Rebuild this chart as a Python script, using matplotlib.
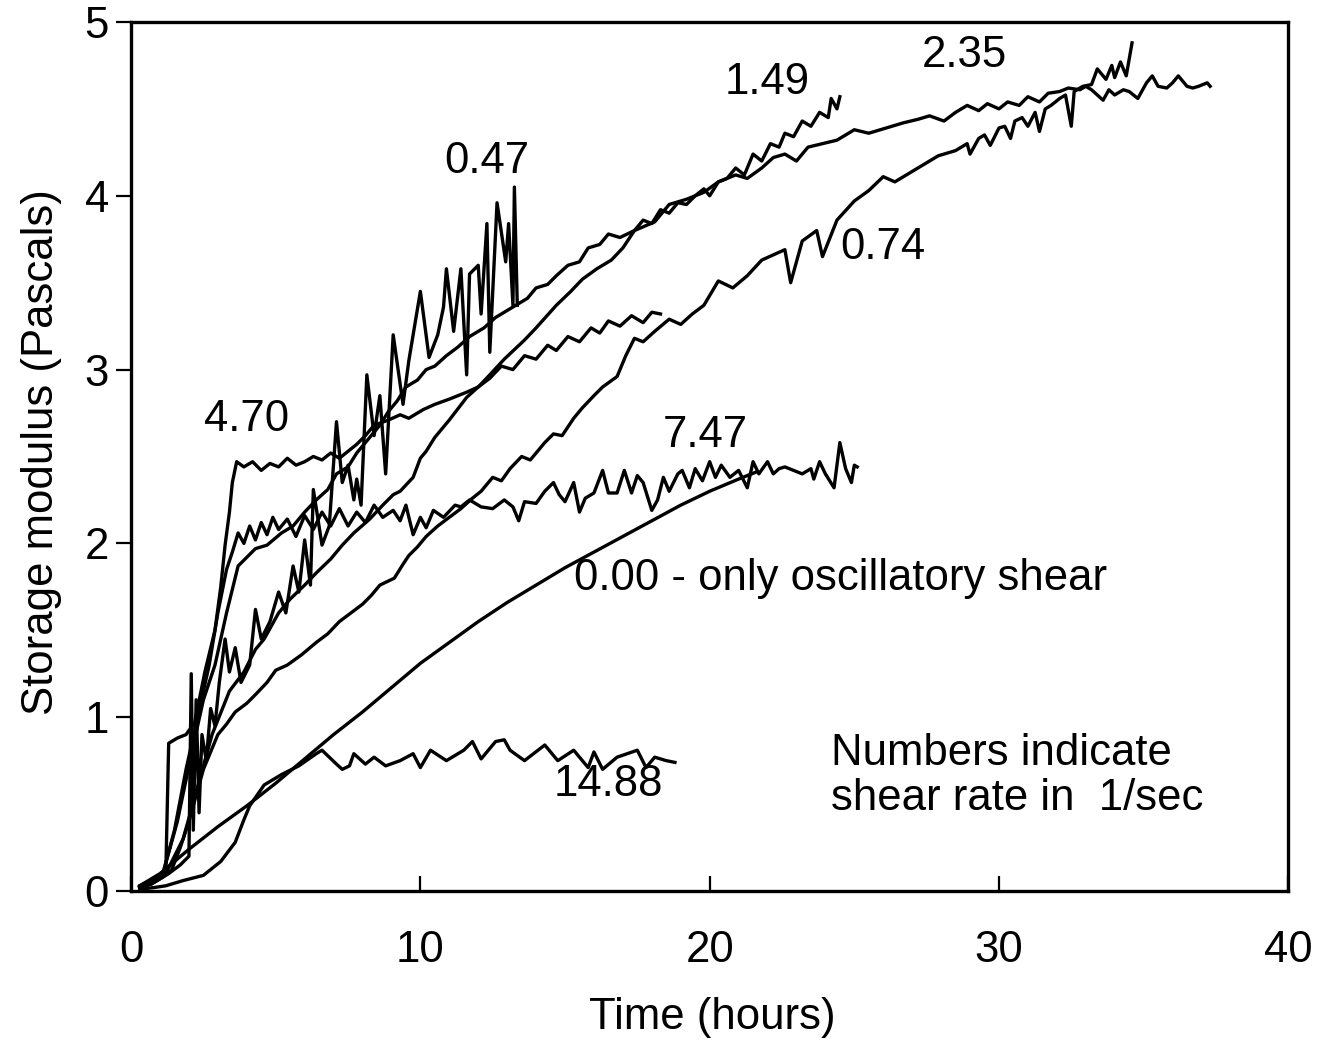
import matplotlib.pyplot as plt

plt.rcParams['font.family'] = ['Liberation Sans', 'DejaVu Sans']

# =========================
# DATA  (time in hours, storage modulus in Pa)
# =========================
# shear rate 4.70 1/s
r470 = [(0.3, 0.03), (0.8, 0.07), (1.2, 0.10), (1.3, 0.85), (1.6, 0.88), (1.9, 0.90),
        (2.2, 0.97), (2.55, 1.26), (2.9, 1.50), (3.1, 1.75), (3.25, 1.99), (3.4, 2.18),
        (3.5, 2.35), (3.65, 2.47), (3.9, 2.44), (4.2, 2.47), (4.5, 2.42), (4.8, 2.46),
        (5.1, 2.44), (5.4, 2.49), (5.7, 2.45), (6.0, 2.47), (6.3, 2.50), (6.6, 2.48),
        (6.9, 2.52), (7.2, 2.49), (7.5, 2.53), (7.8, 2.57), (8.1, 2.62), (8.4, 2.68),
        (8.9, 2.71), (9.3, 2.74), (9.6, 2.72), (10.1, 2.77), (10.5, 2.80), (11.0, 2.83),
        (11.6, 2.87), (12.0, 2.90), (12.4, 2.95), (12.8, 3.02), (13.2, 3.00), (13.6, 3.08),
        (14.0, 3.06), (14.4, 3.14), (14.7, 3.11), (15.1, 3.19), (15.5, 3.16), (15.9, 3.24),
        (16.2, 3.21), (16.5, 3.28), (16.9, 3.25), (17.3, 3.31), (17.7, 3.27), (18.0, 3.33),
        (18.3, 3.32)]

# shear rate 0.47 1/s
r047 = [(0.3, 0.02), (0.8, 0.05), (1.3, 0.10), (1.7, 0.15), (2.0, 0.20), (2.08, 1.25),
        (2.15, 0.35), (2.25, 1.10), (2.35, 0.45), (2.45, 0.90), (2.6, 0.75), (2.75, 1.05),
        (2.9, 0.95), (3.05, 1.20), (3.25, 1.45), (3.4, 1.26), (3.6, 1.40), (3.8, 1.20),
        (4.1, 1.30), (4.3, 1.62), (4.5, 1.45), (4.8, 1.55), (5.1, 1.72), (5.35, 1.60),
        (5.6, 1.87), (5.8, 1.72), (6.0, 2.02), (6.2, 1.76), (6.3, 2.31), (6.6, 1.99),
        (6.85, 2.10), (7.1, 2.70), (7.3, 2.35), (7.5, 2.45), (7.7, 2.25), (7.8, 2.37),
        (7.95, 2.22), (8.15, 2.97), (8.4, 2.62), (8.6, 2.85), (8.8, 2.40), (9.06, 3.20),
        (9.4, 2.80), (9.6, 3.05), (10.0, 3.45), (10.3, 3.07), (10.6, 3.20), (10.8, 3.36),
        (10.9, 3.58), (11.15, 3.22), (11.4, 3.58), (11.6, 2.97), (11.7, 3.55), (12.0, 3.60),
        (12.1, 3.32), (12.3, 3.84), (12.4, 3.10), (12.65, 3.96), (12.95, 3.62), (13.05, 3.84),
        (13.2, 3.37), (13.25, 4.05), (13.35, 3.37)]

# shear rate 1.49 1/s
r149 = [(0.3, 0.02), (0.7, 0.05), (1.1, 0.10), (1.6, 0.40), (2.1, 0.80), (2.5, 1.10),
        (2.9, 1.30), (3.3, 1.60), (3.7, 1.87), (4.0, 1.92), (4.3, 1.97), (4.7, 1.99),
        (5.2, 2.06), (5.6, 2.10), (6.0, 2.18), (6.4, 2.25), (6.8, 2.31), (7.1, 2.40),
        (7.5, 2.44), (7.8, 2.52), (8.2, 2.60), (8.6, 2.68), (8.9, 2.76), (9.2, 2.82),
        (9.5, 2.90), (9.9, 2.94), (10.2, 3.00), (10.5, 3.02), (10.9, 3.08), (11.3, 3.13),
        (11.7, 3.19), (12.2, 3.24), (12.6, 3.30), (13.0, 3.34), (13.3, 3.37), (13.7, 3.41),
        (14.0, 3.47), (14.4, 3.49), (14.7, 3.54), (15.1, 3.60), (15.5, 3.62), (15.8, 3.70),
        (16.2, 3.72), (16.5, 3.78), (16.9, 3.76), (17.4, 3.80), (17.7, 3.86), (18.0, 3.84),
        (18.3, 3.92), (18.6, 3.90), (18.9, 3.96), (19.2, 3.95), (19.5, 4.00), (19.8, 4.04),
        (20.0, 4.00), (20.3, 4.08), (20.6, 4.10), (20.9, 4.16), (21.2, 4.12), (21.5, 4.24),
        (21.8, 4.20), (22.1, 4.30), (22.4, 4.28), (22.6, 4.36), (22.9, 4.34), (23.2, 4.43),
        (23.5, 4.40), (23.8, 4.48), (24.1, 4.45), (24.2, 4.56), (24.4, 4.50), (24.5, 4.57)]

# shear rate 2.35 1/s
r235 = [(0.3, 0.02), (0.7, 0.04), (1.2, 0.10), (1.8, 0.30), (2.3, 0.60), (2.8, 0.90),
        (3.4, 1.15), (3.9, 1.26), (4.3, 1.39), (4.6, 1.45), (5.1, 1.60), (5.5, 1.68),
        (6.0, 1.76), (6.4, 1.83), (6.9, 1.91), (7.3, 1.99), (7.7, 2.06), (8.25, 2.14),
        (8.7, 2.22), (9.06, 2.28), (9.3, 2.30), (9.75, 2.38), (10.0, 2.49), (10.2, 2.53),
        (10.5, 2.61), (11.0, 2.71), (11.6, 2.84), (12.0, 2.90), (12.4, 2.97), (12.9, 3.06),
        (13.6, 3.17), (14.0, 3.24), (14.7, 3.37), (15.2, 3.45), (15.6, 3.52), (16.1, 3.58),
        (16.6, 3.63), (17.0, 3.70), (17.4, 3.80), (18.1, 3.85), (18.6, 3.95), (19.2, 3.98),
        (19.8, 4.02), (20.3, 4.08), (20.9, 4.12), (21.3, 4.10), (21.8, 4.16), (22.2, 4.22),
        (22.6, 4.24), (23.0, 4.20), (23.4, 4.28), (23.9, 4.30), (24.4, 4.32), (25.0, 4.38),
        (25.5, 4.36), (26.1, 4.39), (26.7, 4.42), (27.2, 4.44), (27.6, 4.46), (28.1, 4.43),
        (28.5, 4.48), (28.9, 4.52), (29.3, 4.49), (29.6, 4.53), (30.0, 4.50), (30.3, 4.54),
        (30.7, 4.52), (31.0, 4.57), (31.4, 4.54), (31.7, 4.59), (32.1, 4.60), (32.4, 4.62),
        (32.8, 4.61), (33.0, 4.63), (33.2, 4.61), (33.6, 4.55), (33.8, 4.61), (34.0, 4.58),
        (34.3, 4.61), (34.5, 4.60), (34.8, 4.56), (35.1, 4.65), (35.3, 4.69), (35.5, 4.63),
        (35.8, 4.62), (36.0, 4.65), (36.2, 4.69), (36.5, 4.63), (36.7, 4.62), (36.9, 4.63),
        (37.2, 4.65), (37.3, 4.63)]

# shear rate 0.74 1/s
r074 = [(0.3, 0.02), (0.7, 0.04), (1.1, 0.08), (1.4, 0.12), (1.7, 0.25), (2.0, 0.40),
        (2.5, 0.70), (3.0, 0.90), (3.3, 0.96), (3.6, 1.03), (4.0, 1.08), (4.3, 1.13),
        (4.7, 1.20), (5.0, 1.27), (5.4, 1.30), (5.9, 1.36), (6.4, 1.43), (6.8, 1.48),
        (7.2, 1.55), (7.6, 1.60), (8.0, 1.65), (8.3, 1.70), (8.6, 1.76), (9.1, 1.80),
        (9.4, 1.88), (9.6, 1.93), (9.9, 1.98), (10.2, 2.04), (10.6, 2.10), (11.0, 2.15),
        (11.4, 2.20), (11.8, 2.26), (12.1, 2.30), (12.5, 2.38), (12.8, 2.36), (13.1, 2.43),
        (13.5, 2.50), (13.8, 2.48), (14.3, 2.58), (14.6, 2.63), (14.9, 2.62), (15.3, 2.72),
        (15.6, 2.78), (16.0, 2.85), (16.3, 2.90), (16.8, 2.96), (17.1, 3.08), (17.4, 3.18),
        (17.7, 3.16), (18.1, 3.22), (18.6, 3.29), (19.0, 3.26), (19.4, 3.32), (19.8, 3.37),
        (20.3, 3.51), (20.8, 3.47), (21.3, 3.54), (21.8, 3.63), (22.2, 3.66), (22.6, 3.69),
        (22.8, 3.50), (23.2, 3.74), (23.7, 3.80), (23.9, 3.65), (24.4, 3.86), (25.0, 3.97),
        (25.5, 4.03), (26.0, 4.11), (26.4, 4.08), (26.7, 4.11), (27.3, 4.17), (27.9, 4.23),
        (28.5, 4.26), (28.9, 4.30), (29.0, 4.24), (29.3, 4.33), (29.5, 4.35), (29.7, 4.29),
        (30.0, 4.39), (30.2, 4.40), (30.4, 4.33), (30.55, 4.43), (30.8, 4.45), (31.0, 4.40),
        (31.25, 4.48), (31.4, 4.37), (31.6, 4.50), (31.8, 4.52), (32.1, 4.56), (32.3, 4.58),
        (32.5, 4.40), (32.6, 4.60), (32.9, 4.63), (33.2, 4.64), (33.4, 4.73), (33.7, 4.67),
        (33.9, 4.75), (34.0, 4.68), (34.2, 4.77), (34.4, 4.69), (34.6, 4.88)]

# shear rate 7.47 1/s
r747 = [(0.3, 0.02), (0.7, 0.05), (1.1, 0.10), (1.5, 0.35), (1.9, 0.70), (2.3, 1.00),
        (2.7, 1.30), (3.0, 1.60), (3.3, 1.85), (3.5, 1.95), (3.7, 2.06), (3.9, 2.00),
        (4.1, 2.10), (4.3, 2.02), (4.5, 2.12), (4.7, 2.05), (4.9, 2.15), (5.1, 2.08),
        (5.4, 2.14), (5.7, 2.04), (6.0, 2.16), (6.3, 2.08), (6.6, 2.18), (6.9, 2.10),
        (7.2, 2.20), (7.5, 2.10), (7.8, 2.18), (8.1, 2.12), (8.4, 2.22), (8.7, 2.15),
        (9.06, 2.19), (9.3, 2.13), (9.5, 2.22), (9.75, 2.05), (10.0, 2.15), (10.2, 2.09),
        (10.45, 2.19), (10.8, 2.15), (11.2, 2.22), (11.4, 2.21), (11.7, 2.25), (12.1, 2.21),
        (12.5, 2.20), (12.9, 2.25), (13.2, 2.21), (13.4, 2.13), (13.6, 2.24), (14.0, 2.23),
        (14.3, 2.30), (14.6, 2.35), (14.8, 2.28), (15.0, 2.24), (15.3, 2.35), (15.5, 2.18),
        (15.7, 2.26), (16.0, 2.29), (16.3, 2.42), (16.5, 2.29), (16.8, 2.29), (17.05, 2.42),
        (17.3, 2.29), (17.5, 2.39), (17.7, 2.35), (18.0, 2.19), (18.2, 2.25), (18.4, 2.38),
        (18.6, 2.30), (18.9, 2.40), (19.05, 2.42), (19.3, 2.32), (19.5, 2.43), (19.75, 2.36),
        (20.0, 2.47), (20.2, 2.38), (20.4, 2.45), (20.7, 2.38), (21.0, 2.42), (21.3, 2.32),
        (21.5, 2.47), (21.7, 2.40), (22.0, 2.47), (22.2, 2.40), (22.4, 2.43), (22.6, 2.44),
        (22.9, 2.42), (23.2, 2.40), (23.5, 2.43), (23.6, 2.37), (23.8, 2.47), (24.0, 2.40),
        (24.3, 2.32), (24.5, 2.58), (24.7, 2.43), (24.9, 2.35), (25.0, 2.45), (25.1, 2.44)]

# no steady shear, oscillatory only
r000 = [(0.3, 0.03), (1, 0.10), (2, 0.24), (3, 0.37), (4, 0.49), (5, 0.62), (6, 0.76),
        (7, 0.90), (8, 1.03), (9, 1.17), (10, 1.31), (11, 1.43), (12, 1.55), (13, 1.66),
        (14, 1.76), (15, 1.86), (16, 1.95), (17, 2.04), (18, 2.13), (19, 2.22), (20, 2.30),
        (21, 2.37), (21.6, 2.41)]

# shear rate 14.88 1/s
r1488 = [(0.3, 0.01), (0.8, 0.02), (1.2, 0.03), (1.8, 0.06), (2.5, 0.09), (3.1, 0.17),
         (3.6, 0.28), (3.9, 0.41), (4.1, 0.49), (4.6, 0.61), (5.2, 0.67), (5.8, 0.72),
         (6.4, 0.79), (6.6, 0.81), (7.1, 0.73), (7.3, 0.70), (7.55, 0.72), (7.7, 0.79),
         (8.1, 0.73), (8.4, 0.77), (8.8, 0.72), (9.3, 0.75), (9.75, 0.79), (10.0, 0.71),
         (10.35, 0.81), (10.9, 0.75), (11.5, 0.81), (11.8, 0.86), (12.1, 0.76), (12.6, 0.86),
         (12.9, 0.87), (13.1, 0.81), (13.6, 0.75), (14.3, 0.84), (14.75, 0.75), (15.3, 0.81),
         (15.8, 0.71), (16.0, 0.80), (16.3, 0.70), (16.8, 0.77), (17.5, 0.81), (17.8, 0.71),
         (18.1, 0.77), (18.5, 0.75), (18.8, 0.74)]

curves = [r470, r047, r149, r235, r074, r747, r000, r1488]

# text labels next to the curves
label_text = ['4.70', '0.47', '1.49', '2.35', '0.74', '7.47', '14.88']
label_x = [4.0, 12.3, 22.0, 28.8, 26.0, 19.85, 16.5]
label_y = [2.71, 4.20, 4.65, 4.81, 3.70, 2.62, 0.61]

FS = 31.5

# =========================
# PLOT
# =========================
fig = plt.figure(figsize=(13.24, 10.47), dpi=100)
ax = fig.add_axes([0.099, 0.149, 0.874, 0.830])

for c in curves:
    xs, ys = zip(*c)
    ax.plot(xs, ys, color='black', lw=2.4)

for t, x, y in zip(label_text, label_x, label_y):
    ax.text(x, y, t, fontsize=FS, ha='center', va='center')

ax.text(15.3, 1.80, '0.00 - only oscillatory shear', fontsize=FS, ha='left', va='center')
ax.text(24.2, 0.66, 'Numbers indicate\nshear rate in  1/sec', fontsize=FS,
        ha='left', va='center', linespacing=1.12)

ax.set_xlim(0, 40)
ax.set_ylim(0, 5)
ax.set_xticks([0, 10, 20, 30, 40])
ax.set_yticks([0, 1, 2, 3, 4, 5])
ax.tick_params(axis='x', direction='in', length=11, width=1.6, labelsize=FS, pad=28)
ax.tick_params(axis='y', direction='out', length=11, width=1.6, labelsize=FS, pad=5)
for sp in ax.spines.values():
    sp.set_linewidth(2.4)

ax.set_xlabel('Time (hours)', fontsize=FS)
ax.set_ylabel('Storage modulus (Pascals)', fontsize=FS)
ax.xaxis.set_label_coords(0.502, -0.122)
ax.yaxis.set_label_coords(-0.060, 0.505)

fig.savefig('out.png', dpi=100)
